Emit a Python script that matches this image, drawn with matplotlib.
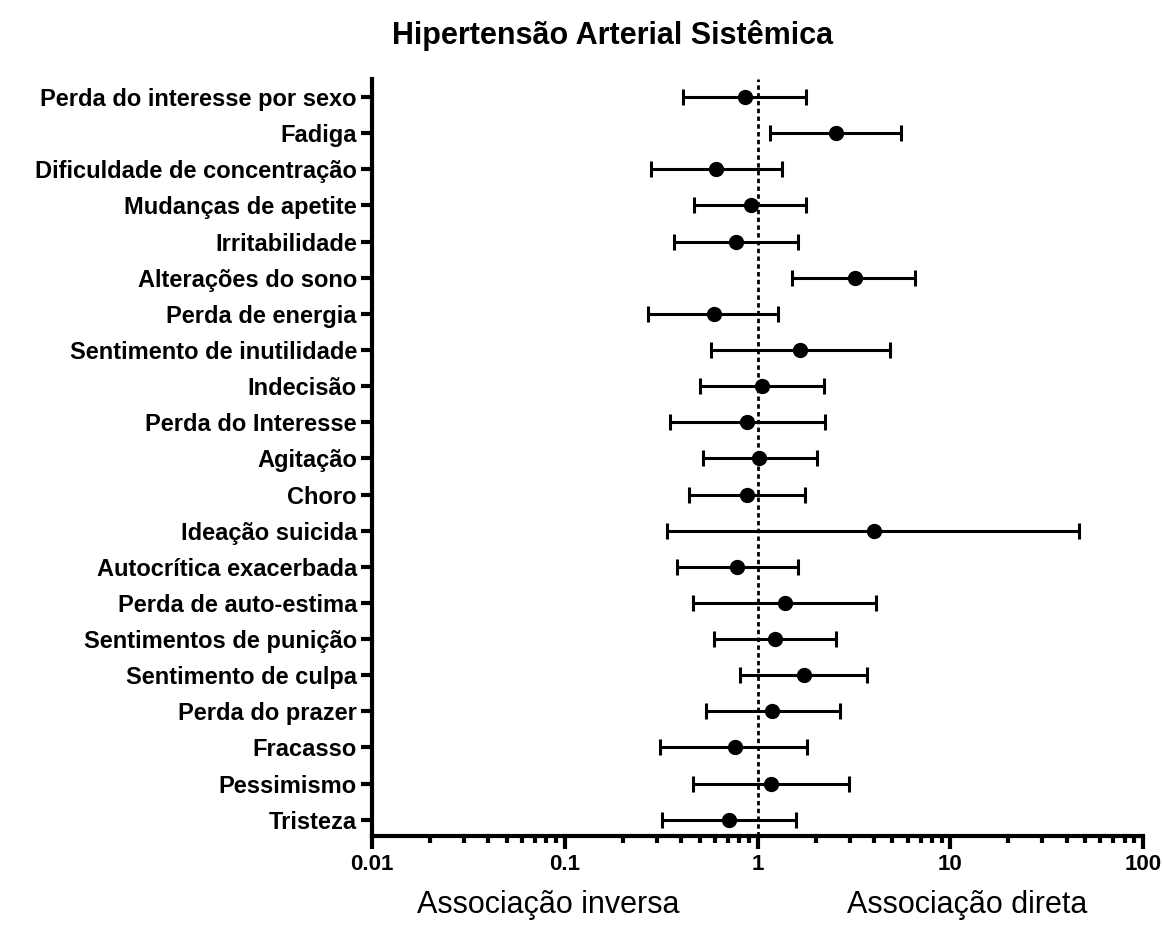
import numpy as np
import matplotlib.pyplot as plt
from matplotlib.ticker import LogLocator, NullFormatter

plt.rcParams['font.family'] = ['Liberation Sans', 'DejaVu Sans']

# rows top to bottom
labels = [
    "Perda do interesse por sexo", "Fadiga", "Dificuldade de concentração",
    "Mudanças de apetite", "Irritabilidade", "Alterações do sono",
    "Perda de energia", "Sentimento de inutilidade", "Indecisão",
    "Perda do Interesse", "Agitação", "Choro", "Ideação suicida",
    "Autocrítica exacerbada", "Perda de auto-estima", "Sentimentos de punição",
    "Sentimento de culpa", "Perda do prazer", "Fracasso", "Pessimismo", "Tristeza",
]
odds = [0.86, 2.55, 0.61, 0.92, 0.77, 3.18, 0.59, 1.66, 1.05, 0.88, 1.01,
        0.88, 3.99, 0.78, 1.38, 1.23, 1.73, 1.18, 0.76, 1.17, 0.71]
ci_low = [0.41, 1.16, 0.28, 0.47, 0.37, 1.51, 0.27, 0.57, 0.50, 0.35, 0.52,
          0.44, 0.34, 0.38, 0.46, 0.59, 0.81, 0.54, 0.31, 0.46, 0.32]
ci_high = [1.79, 5.55, 1.34, 1.79, 1.61, 6.57, 1.28, 4.85, 2.20, 2.24, 2.03,
           1.76, 46.2, 1.61, 4.12, 2.56, 3.68, 2.66, 1.81, 2.97, 1.58]
tick_vals = [0.01, 0.1, 1, 10, 100]
tick_labels = ['0.01', '0.1', '1', '10', '100']

odds = np.array(odds)
y = np.arange(len(labels))[::-1]
err = [odds - np.array(ci_low), np.array(ci_high) - odds]

fig = plt.figure(figsize=(11.63, 9.25), dpi=100)
ax = fig.add_axes([0.320, 0.0962, 0.663, 0.8184])

ax.axvline(1, color='black', lw=2, linestyle=(0, (1.6, 1.2)), zorder=1)
ax.errorbar(odds, y, xerr=err, fmt='o', color='black', ms=10,
            elinewidth=2.2, capsize=5.5, capthick=2.2, zorder=3)

ax.set_xscale('log')
ax.set_xlim(0.01, 100)
ax.set_ylim(-0.45, len(labels) - 0.5)
ax.set_yticks(y)
ax.set_yticklabels(labels, fontsize=17, fontweight='bold')
ax.set_xticks(tick_vals)
ax.set_xticklabels(tick_labels, fontsize=16, fontweight='bold')
ax.xaxis.set_minor_locator(LogLocator(base=10, subs=np.arange(2, 10)))
ax.xaxis.set_minor_formatter(NullFormatter())

for s in ['top', 'right']:
    ax.spines[s].set_visible(False)
for s in ['left', 'bottom']:
    ax.spines[s].set_linewidth(3)
ax.tick_params(axis='x', which='major', length=9, width=3, direction='out', pad=4)
ax.tick_params(axis='x', which='minor', length=5, width=3, direction='out')
ax.tick_params(axis='y', which='major', length=8, width=3, direction='out', pad=3)

fig.text(0.527, 0.962, "Hipertensão Arterial Sistêmica", fontsize=22,
         fontweight='bold', ha='center', va='center')
fig.text(548 / 1163, 1 - 905 / 925, "Associação inversa", fontsize=22,
         ha='center', va='center')
fig.text(967 / 1163, 1 - 905 / 925, "Associação direta", fontsize=22,
         ha='center', va='center')

fig.savefig('out.png', dpi=100)
